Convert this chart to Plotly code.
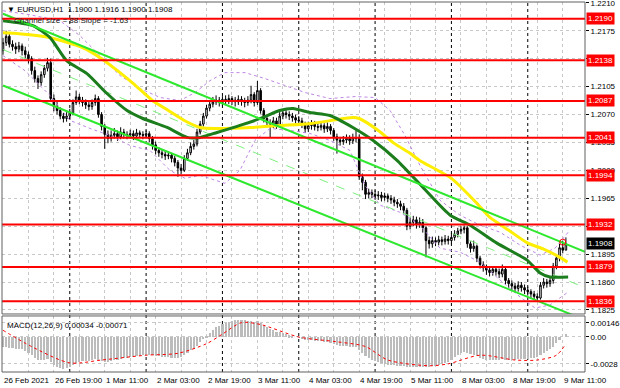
import plotly.graph_objects as go

# ---------------- data ----------------
first_open = 1.2150
closes = [1.2160,1.2168,1.2158,1.2155,1.2152,1.2156,1.2150,1.2145,1.2140,1.2125,
          1.2115,1.2110,1.2120,1.2128,1.2135,1.2090,1.2080,1.2075,1.2068,1.2065,
          1.2068,1.2072,1.2085,1.2092,1.2088,1.2085,1.2082,1.2080,1.2085,1.2090,
          1.2070,1.2055,1.2045,1.2040,1.2044,1.2046,1.2042,1.2048,1.2045,1.2044,
          1.2046,1.2043,1.2047,1.2045,1.2044,1.2046,1.2040,1.2032,1.2025,1.2022,
          1.2020,1.2018,1.2019,1.2015,1.2010,1.2003,1.2000,1.2015,1.2022,1.2030,
          1.2033,1.2048,1.2058,1.2068,1.2078,1.2083,1.2086,1.2088,1.2085,1.2089,
          1.2087,1.2090,1.2088,1.2086,1.2089,1.2087,1.2085,1.2088,1.2095,1.2085,
          1.2100,1.2075,1.2065,1.2060,1.2058,1.2062,1.2057,1.2068,1.2072,1.2070,
          1.2068,1.2066,1.2063,1.2062,1.2058,1.2052,1.2056,1.2058,1.2055,1.2054,
          1.2056,1.2052,1.2055,1.2050,1.2042,1.2038,1.2036,1.2038,1.2040,1.2037,
          1.2041,1.2040,1.1992,1.1985,1.1970,1.1972,1.1970,1.1968,1.1969,1.1966,
          1.1968,1.1965,1.1963,1.1960,1.1958,1.1955,1.1950,1.1930,1.1935,1.1938,
          1.1932,1.1935,1.1928,1.1912,1.1908,1.1912,1.1910,1.1913,1.1911,1.1914,
          1.1912,1.1916,1.1920,1.1924,1.1926,1.1928,1.1908,1.1902,1.1905,1.1890,
          1.1882,1.1878,1.1875,1.1872,1.1876,1.1873,1.1870,1.1876,1.1862,1.1858,
          1.1855,1.1852,1.1856,1.1853,1.1850,1.1848,1.1845,1.1842,1.1840,1.1856,
          1.1860,1.1858,1.1862,1.1880,1.1890,1.1903,1.1900,1.1908]
highs = [1.2166,1.2175,1.2172,1.2163,1.2160,1.2161,1.2159,1.2155,1.2149,1.2143,
         1.2130,1.2119,1.2124,1.2132,1.2141,1.2140,1.2095,1.2086,1.2079,1.2072,
         1.2073,1.2077,1.2089,1.2100,1.2096,1.2092,1.2089,1.2087,1.2089,1.2095,
         1.2093,1.2073,1.2058,1.2050,1.2050,1.2053,1.2050,1.2054,1.2052,1.2049,
         1.2051,1.2050,1.2052,1.2050,1.2049,1.2050,1.2049,1.2043,1.2036,1.2029,
         1.2026,1.2024,1.2024,1.2022,1.2018,1.2013,1.2008,1.2019,1.2027,1.2035,
         1.2038,1.2052,1.2062,1.2072,1.2082,1.2088,1.2092,1.2094,1.2092,1.2093,
         1.2094,1.2095,1.2093,1.2092,1.2094,1.2093,1.2091,1.2093,1.2106,1.2098,
         1.2112,1.2103,1.2078,1.2069,1.2064,1.2067,1.2066,1.2073,1.2077,1.2076,
         1.2074,1.2072,1.2070,1.2068,1.2066,1.2061,1.2061,1.2063,1.2062,1.2060,
         1.2061,1.2059,1.2060,1.2058,1.2053,1.2046,1.2042,1.2043,1.2045,1.2044,
         1.2046,1.2050,1.2045,1.1996,1.1988,1.1977,1.1976,1.1975,1.1974,1.1973,
         1.1972,1.1971,1.1969,1.1967,1.1964,1.1962,1.1959,1.1953,1.1941,1.1943,
         1.1942,1.1941,1.1939,1.1930,1.1917,1.1917,1.1916,1.1918,1.1917,1.1919,
         1.1918,1.1921,1.1925,1.1928,1.1930,1.1931,1.1930,1.1911,1.1912,1.1907,
         1.1893,1.1886,1.1882,1.1879,1.1880,1.1879,1.1877,1.1882,1.1878,1.1865,
         1.1862,1.1859,1.1861,1.1860,1.1857,1.1854,1.1851,1.1849,1.1846,1.1860,
         1.1865,1.1864,1.1867,1.1884,1.1895,1.1908,1.1912,1.1916]
lows = [1.2145,1.2156,1.2154,1.2150,1.2146,1.2148,1.2144,1.2140,1.2134,1.2120,
        1.2110,1.2102,1.2106,1.2116,1.2124,1.2086,1.2074,1.2070,1.2064,1.2060,
        1.2061,1.2064,1.2069,1.2082,1.2083,1.2080,1.2077,1.2075,1.2076,1.2081,
        1.2066,1.2050,1.2027,1.2034,1.2036,1.2040,1.2037,1.2039,1.2040,1.2039,
        1.2040,1.2038,1.2040,1.2041,1.2039,1.2040,1.2035,1.2026,1.2020,1.2017,
        1.2015,1.2013,1.2014,1.2010,1.2005,1.1992,1.1995,1.1998,1.2012,1.2019,
        1.2026,1.2030,1.2045,1.2055,1.2065,1.2074,1.2079,1.2082,1.2080,1.2081,
        1.2083,1.2083,1.2082,1.2080,1.2082,1.2081,1.2079,1.2081,1.2084,1.2080,
        1.2082,1.2071,1.2060,1.2054,1.2041,1.2053,1.2052,1.2054,1.2064,1.2065,
        1.2063,1.2061,1.2059,1.2057,1.2053,1.2047,1.2048,1.2051,1.2050,1.2049,
        1.2050,1.2047,1.2048,1.2045,1.2037,1.2021,1.2031,1.2032,1.2034,1.2032,
        1.2033,1.2035,1.1988,1.1975,1.1964,1.1965,1.1965,1.1963,1.1963,1.1961,
        1.1962,1.1960,1.1958,1.1955,1.1953,1.1950,1.1945,1.1925,1.1926,1.1930,
        1.1927,1.1928,1.1922,1.1891,1.1902,1.1903,1.1905,1.1906,1.1906,1.1907,
        1.1907,1.1908,1.1912,1.1916,1.1920,1.1921,1.1903,1.1897,1.1898,1.1885,
        1.1877,1.1873,1.1869,1.1867,1.1868,1.1868,1.1865,1.1866,1.1857,1.1853,
        1.1850,1.1847,1.1848,1.1848,1.1845,1.1843,1.1840,1.1838,1.1836,1.1838,
        1.1852,1.1853,1.1854,1.1858,1.1876,1.1886,1.1896,1.1900]
opens = [first_open] + closes[:-1]
bars = list(range(len(closes)))

# moving averages (bar index, price)
ma_yellow_x = [0,5,15,25,31,36,41,47,52,57,62,67,78,88,97,110,112,118,123,128,131,141,149,153,159,165,170,175,177.5]
ma_yellow_y = [1.21725,1.21713,1.21663,1.21538,1.21400,1.21250,1.21088,1.20875,1.20750,1.20625,1.20538,1.20525,
               1.20538,1.20563,1.20588,1.20663,1.20650,1.20500,1.20338,1.20213,1.20125,1.19900,1.19588,1.19413,
               1.19250,1.19088,1.19013,1.18913,1.18850]
ma_green_x = [0,9.4,14.8,20,26.4,32.7,39,44,51.6,57.9,62,67.3,74.5,81.8,87,91.2,96.5,102.8,110,116.4,123.9,132,140.6,146.9,155.3,164.8,168.9,172,177.7]
ma_green_y = [1.21875,1.21813,1.21663,1.21375,1.21213,1.20963,1.20750,1.20650,1.20538,1.20413,1.20413,1.20475,
              1.20563,1.20663,1.20750,1.20775,1.20725,1.20688,1.20538,1.20375,1.20125,1.19788,1.19438,1.19313,
              1.19088,1.18875,1.18713,1.18663,1.18663]

# envelope bands (purple dotted)
band_up_x = [0,8.5,17.9,24.2,30.5,36.8,43.1,49.4,55.7,60.4,65.1,69.8,76.1,82.4,88.7,95,102.8,110.7,117,121.7,126.4,131.1,137.4,143.7,150,156.3,162.6,168.9,173.6,177.7]
band_up_y = [1.22000,1.21950,1.21875,1.21688,1.21438,1.21188,1.21025,1.20913,1.20875,1.20975,1.21125,1.21225,
             1.21225,1.21150,1.21063,1.20975,1.20900,1.20925,1.20913,1.20750,1.20438,1.20063,1.19625,1.19438,
             1.19313,1.19225,1.19063,1.18938,1.19025,1.19225]
band_lo_x = [0,6.9,14.8,21.1,27.4,33.6,39.9,46.2,52.5,57.2,61.9,66.7,69.8,74.5,79.2,84,90.3,96.5,102.8,109.1,113.8,118.6,124.8,131.1,137.4,143.7,150,156.3,162.6,167.3,172,177.7]
band_lo_y = [1.21438,1.21250,1.20938,1.20625,1.20525,1.20438,1.20313,1.20250,1.20000,1.19900,1.19938,1.19875,
             1.19838,1.20000,1.20375,1.20525,1.20500,1.20463,1.20375,1.20250,1.19813,1.19563,1.19475,1.19313,
             1.19025,1.18975,1.18850,1.18625,1.18413,1.18275,1.18313,1.18475]

# regression channel endpoints
chan_x = [0, 183]
chan_upper = [1.21963, 1.18980]
chan_mid = [1.21513, 1.18530]
chan_lower = [1.21063, 1.18125]

levels = [1.2190, 1.2138, 1.2087, 1.2041, 1.1994, 1.1932, 1.1879, 1.1836]
last_price = 1.1908
price_ticks = [1.1825, 1.1860, 1.1895, 1.1930, 1.1965, 1.2000, 1.2035, 1.2070, 1.2105, 1.2140, 1.2175, 1.2210]
hidden_ticks = [1.1930, 1.2140]  # fully covered by level labels in the original

macd = [-0.0010,-0.0010,-0.0011,-0.0011,-0.0012,-0.0012,-0.0013,
        -0.0015,-0.0017,-0.0019,-0.0022,-0.0024,-0.0024,-0.0024,
        -0.0023,-0.0026,-0.0029,-0.0031,-0.0032,-0.0033,-0.0032,-0.0031,
        -0.0029,-0.0027,-0.0026,-0.0025,-0.0025,-0.0025,-0.0024,-0.0023,-0.0024,-0.0025,
        -0.0026,-0.0026,-0.0025,-0.0024,-0.0024,-0.0023,-0.0022,-0.0022,-0.0021,-0.0021,-0.0020,-0.0020,-0.0019,-0.0019,
        -0.0019,-0.0019,-0.0020,-0.0020,-0.0021,-0.0021,-0.0021,-0.0022,-0.0022,-0.0022,
        -0.0021,-0.0019,-0.0017,-0.0014,-0.0012,-0.0009,-0.0005,-0.0002,
        0.0001,0.0004,0.0007,0.0010,0.0012,0.0014,0.0015,0.0016,0.0017,
        0.0018,0.0018,0.0018,0.0018,0.0017,0.0017,0.0016,0.0017,
        0.0015,0.0012,0.0010,0.0008,0.0007,0.0005,0.0005,0.0004,0.0003,0.0002,
        0.0001,0.0000,-0.0001,-0.0002,-0.0003,-0.0003,-0.0003,-0.0004,
        -0.0004,-0.0004,-0.0005,-0.0005,-0.0006,-0.0007,-0.0008,-0.0009,-0.0009,-0.0009,-0.0010,-0.0010,-0.0010,
        -0.0014,-0.0017,-0.0020,-0.0022,-0.0024,-0.0025,-0.0026,-0.0027,
        -0.0028,-0.0029,-0.0029,-0.0029,-0.0030,-0.0030,-0.0030,-0.0031,-0.0031,-0.0031,-0.0031,
        -0.0031,-0.0031,-0.0031,-0.0031,-0.0030,-0.0030,-0.0029,-0.0028,-0.0027,-0.0026,
        -0.0024,-0.0021,-0.0019,-0.0017,-0.0016,-0.0017,-0.0018,-0.0019,
        -0.0020,-0.0022,-0.0023,-0.0024,-0.0024,-0.0024,-0.0024,-0.0024,-0.0023,-0.0024,-0.0024,-0.0024,
        -0.0024,-0.0023,-0.0023,-0.0023,-0.0023,-0.0022,-0.0022,-0.0021,-0.0019,-0.0017,
        -0.0015,-0.0013,-0.0010,-0.0006,-0.0003,0.0000,0.00034]
signal_x = [0,9,21,31,45,55,64,69,75,81,93,105,114,121,134,140,150,161,168,174,177]
signal_y = [0.0007,-0.0010,-0.0027,-0.0024,-0.0019,-0.0017,-0.0007,0.0003,0.0015,0.0013,0.0000,
            -0.0005,-0.0010,-0.0024,-0.0030,-0.0028,-0.0019,-0.0024,-0.0024,-0.0019,-0.00071]
macd_ticks = [0.00146, 0.0, -0.0028]
macd_ticktext = ["0.00146", "0.00", "-0.0028"]

xlabel_bars = [0, 16, 32, 48, 64, 80, 96, 112, 128, 144, 160, 176]
xlabel_text = ["26 Feb 2021", "26 Feb 19:00", "1 Mar 11:00", "2 Mar 03:00", "2 Mar 19:00", "3 Mar 11:00",
               "4 Mar 03:00", "4 Mar 19:00", "5 Mar 11:00", "8 Mar 03:00", "8 Mar 19:00", "9 Mar 11:00"]
day_sep_bars = [21, 45, 69, 93, 117, 141, 165]

# ---------------- figure ----------------
FONT = "Liberation Sans, Arial, sans-serif"
BAND = "rgb(190,135,228)"
fig = go.Figure()

fig.add_trace(go.Scatter(x=band_up_x, y=band_up_y, mode="lines",
                         line=dict(color=BAND, width=1, dash="dot"), xaxis="x", yaxis="y"))
fig.add_trace(go.Scatter(x=band_lo_x, y=band_lo_y, mode="lines",
                         line=dict(color=BAND, width=1, dash="dot"), xaxis="x", yaxis="y"))

fig.add_trace(go.Candlestick(x=bars, open=opens, high=highs, low=lows, close=closes,
                             increasing=dict(line=dict(color="black", width=1), fillcolor="white"),
                             decreasing=dict(line=dict(color="black", width=1), fillcolor="black"),
                             whiskerwidth=0, xaxis="x", yaxis="y"))

fig.add_trace(go.Scatter(x=chan_x, y=chan_mid, mode="lines",
                         line=dict(color="#7ef07e", width=1, dash="dash"), xaxis="x", yaxis="y"))
fig.add_trace(go.Scatter(x=ma_yellow_x, y=ma_yellow_y, mode="lines",
                         line=dict(color="#ffee00", width=3, shape="spline", smoothing=0.6), xaxis="x", yaxis="y"))
fig.add_trace(go.Scatter(x=ma_green_x, y=ma_green_y, mode="lines",
                         line=dict(color="#1b7d1b", width=3, shape="spline", smoothing=0.6), xaxis="x", yaxis="y"))
fig.add_trace(go.Scatter(x=chan_x, y=chan_upper, mode="lines",
                         line=dict(color="#2ee82e", width=2), xaxis="x", yaxis="y"))
fig.add_trace(go.Scatter(x=chan_x, y=chan_lower, mode="lines",
                         line=dict(color="#2ee82e", width=2), xaxis="x", yaxis="y"))
fig.add_trace(go.Scatter(x=[bars[-1] - 1], y=[closes[-1] + 0.0002], mode="markers",
                         marker=dict(symbol="circle-open", size=6, color="red", line=dict(width=1)),
                         xaxis="x", yaxis="y"))

# MACD pane
fig.add_trace(go.Bar(x=bars, y=macd, marker=dict(color="#bcbcbc", line=dict(width=0)),
                     width=0.68, xaxis="x2", yaxis="y2"))
fig.add_trace(go.Scatter(x=signal_x, y=signal_y, mode="lines",
                         line=dict(color="red", width=1, dash="dot", shape="spline", smoothing=0.8),
                         xaxis="x2", yaxis="y2"))

shapes = []
for lv in levels:
    shapes.append(dict(type="line", xref="x domain", yref="y", x0=0, x1=1, y0=lv, y1=lv,
                       line=dict(color="#ff0000", width=2), layer="above"))
for b in day_sep_bars:
    shapes.append(dict(type="line", xref="x", yref="paper", x0=b, x1=b, y0=0, y1=1,
                       line=dict(color="black", width=1, dash="dot"), layer="below"))
shapes.append(dict(type="rect", xref="paper", yref="paper", x0=0, x1=1, y0=0.1568, y1=1,
                   line=dict(color="#606060", width=1), layer="above"))
shapes.append(dict(type="rect", xref="paper", yref="paper", x0=0, x1=1, y0=0, y1=0.1514,
                   line=dict(color="#606060", width=1), layer="above"))

annotations = []
for lv in levels:
    annotations.append(dict(xref="paper", yref="y", x=1, y=lv, xanchor="left", yanchor="middle",
                            xshift=1, text=f"{lv:.4f}", showarrow=False, bgcolor="#ff0000",
                            font=dict(family=FONT, size=8, color="white"), borderpad=1))
annotations.append(dict(xref="paper", yref="y", x=1, y=last_price, xanchor="left", yanchor="middle",
                        xshift=1, text=f"{last_price:.4f}", showarrow=False, bgcolor="black",
                        font=dict(family=FONT, size=8, color="white"), borderpad=1))
annotations.append(dict(xref="paper", yref="paper", x=0, y=1, xanchor="left", yanchor="top",
                        xshift=3, yshift=-1,
                        text="\u25bc EURUSD,H1  1.1900 1.1916 1.1900 1.1908", showarrow=False,
                        font=dict(family=FONT, size=8, color="black")))
annotations.append(dict(xref="paper", yref="paper", x=0, y=1, xanchor="left", yanchor="top",
                        xshift=10, yshift=-12,
                        text="Channel size = 88 Slope = -1.63", showarrow=False,
                        font=dict(family=FONT, size=8, color="#202020")))
annotations.append(dict(xref="paper", yref="paper", x=0, y=0.1514, xanchor="left", yanchor="top",
                        xshift=3, yshift=-3,
                        text="MACD(12,26,9) 0.00034 -0.00071", showarrow=False,
                        font=dict(family=FONT, size=8, color="black")))
for b, t in zip(xlabel_bars, xlabel_text):
    annotations.append(dict(xref="x", yref="paper", x=b, y=0, xanchor="left", yanchor="top",
                            xshift=-1, yshift=-2, text=t, showarrow=False,
                            font=dict(family=FONT, size=8, color="black")))

grid = dict(showgrid=True, gridcolor="#c8c8c8", griddash="dot", gridwidth=1, zeroline=False)
fig.update_layout(
    width=620, height=388,
    margin=dict(l=2, r=35, t=2, b=16, autoexpand=False),
    paper_bgcolor="white", plot_bgcolor="white",
    showlegend=False, bargap=0,
    xaxis=dict(domain=[0, 1], range=[-0.31, 183.0], anchor="y", showticklabels=False, automargin=False,
               tickmode="linear", tick0=0, dtick=8, ticks="", rangeslider=dict(visible=False), **grid),
    xaxis2=dict(domain=[0, 1], range=[-0.31, 183.0], anchor="y2", matches="x", showticklabels=False,
                automargin=False, tickmode="linear", tick0=0, dtick=8, ticks="", **grid),
    yaxis=dict(domain=[0.1568, 1], range=[1.1820, 1.2211], side="right", tickmode="array",
               tickvals=price_ticks,
               ticktext=["" if v in hidden_ticks else f"{v:.4f}" for v in price_ticks],
               ticks="outside", ticklen=3, tickcolor="black", ticklabeloverflow="allow", automargin=False,
               tickfont=dict(family=FONT, size=8, color="black"), **grid),
    yaxis2=dict(domain=[0, 0.1514], range=[-0.00365, 0.00219], side="right", tickmode="array",
                tickvals=macd_ticks, ticktext=macd_ticktext, ticks="outside", ticklen=3, tickcolor="black",
                automargin=False, tickfont=dict(family=FONT, size=8, color="black"), **grid),
    shapes=shapes, annotations=annotations,
)

fig.write_html("out.html", config={"displayModeBar": False},
               post_script="document.body.style.margin='0';")
